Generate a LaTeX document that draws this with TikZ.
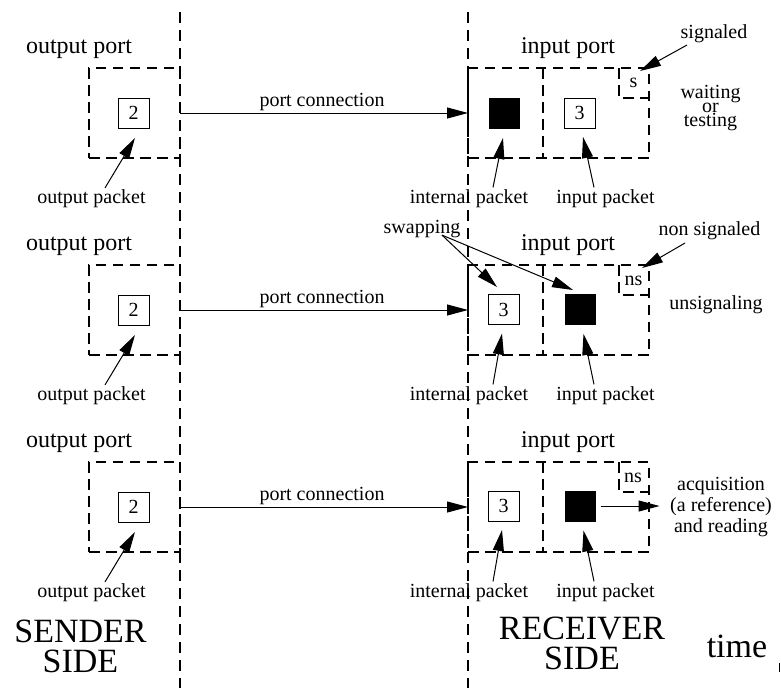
\documentclass[tikz,border=0pt]{standalone}
\usepackage{fontspec}
\setmainfont{Liberation Serif}
\usetikzlibrary{arrows.meta}
\begin{document}
\begin{tikzpicture}[x=1pt,y=-1pt,
  dline/.style={line width=1.1pt, dash pattern=on 10.5pt off 6.5pt},
  sepline/.style={line width=1.1pt, dash pattern=on 11pt off 7pt},
  dbox/.style={draw, dline, inner sep=0pt, outer sep=0pt},
  pkt/.style={draw, line width=0.9pt, minimum width=31pt, minimum height=30pt, inner sep=0pt, outer sep=0pt, font=\fontsize{20}{20}\selectfont},
  fpkt/.style={fill=black, minimum width=31pt, minimum height=31pt, inner sep=0pt, outer sep=0pt},
  lbl/.style={inner sep=0pt, anchor=base, font=\fontsize{20}{20}\selectfont},
  mlbl/.style={inner sep=0pt, align=center},
  ttl/.style={inner sep=0pt, anchor=base, font=\fontsize{24}{24}\selectfont},
  big/.style={inner sep=0pt, align=center, font=\fontsize{34}{30}\selectfont},
  arr/.style={line width=1pt, -{Triangle[length=21pt,width=11pt]}}
]
\useasboundingbox (0,0) rectangle (781,688);

% separators
\coordinate (slt) at (180,12); \coordinate (slb) at (180,688);
\coordinate (srt) at (468,12); \coordinate (srb) at (468,688);
\draw[sepline] (slt) -- (slb);
\draw[sepline] (srt) -- (srb);

\newcommand\rowcommon[1]{%
  \node[ttl] (opt#1) at (79,53) {output port};
  \node[dbox, minimum width=91pt, minimum height=90pt] (ob#1) at (134.5,113) {};
  \node[pkt] (op#1) at (133.5,113) {2};
  \node[lbl] (opl#1) at (91.5,203) {output packet};
  \draw[arr] ([xshift=13.5pt,yshift=1pt]opl#1.north) -- ([xshift=1.5pt,yshift=-10pt]op#1.south);
  \node[ttl] (ipt#1) at (568,53) {input port};
  \node[dbox, minimum width=181pt, minimum height=90pt] (ib#1) at (558.5,113) {};
  \draw[dline] ([xshift=75pt]ib#1.north west) -- ([xshift=75pt]ib#1.south west);
  \draw[dline] ([xshift=-30pt]ib#1.north east) |- ([yshift=-30pt]ib#1.north east);
  \node[lbl] (pcl#1) at (322,106) {port connection};
  \draw[arr] (ob#1.east) -- (ib#1.west);
  \node[lbl] (inl#1) at (469,203) {internal packet};
  \node[lbl] (ipl#1) at (605.5,203) {input packet};
  \draw[arr] ([xshift=24pt,yshift=1.5pt]inl#1.north) -- ([xshift=-1.5pt,yshift=-9pt]int#1.south);
  \draw[arr] ([xshift=-11.5pt,yshift=1.5pt]ipl#1.north) -- ([xshift=3.5pt,yshift=-9pt]inp#1.south);
}

% ---------- row 1 ----------
\begin{scope}
  \node[fpkt] (int1) at (504.5,113.5) {};
  \node[pkt] (inp1) at (579.5,113) {3};
  \rowcommon{1}
  \node[lbl] (s1) at (633.5,87) {s};
  \node[lbl] (sig1) at (714,38) {signaled};
  \draw[arr] ([xshift=-27pt,yshift=-2.5pt]sig1.south) -- ([xshift=-9pt,yshift=-3pt]ib1.north east);
  \node[mlbl, font=\fontsize{20}{14}\selectfont] (wt1) at (710.5,108.5) {waiting\\or\\testing};
\end{scope}

% ---------- row 2 ----------
\begin{scope}[shift={(0,197)}]
  \node[pkt] (int2) at (503.5,112.5) {3};
  \node[fpkt] (inp2) at (580,112.5) {};
  \rowcommon{2}
  \node[lbl] (ns2) at (633.5,88) {ns};
  \node[lbl] (nsig2) at (709.5,38) {non signaled};
  \draw[arr] ([xshift=-24.5pt,yshift=-3.5pt]nsig2.south) -- ([xshift=-7pt,yshift=-3pt]ib2.north east);
  \node[lbl] (uns2) at (716,112) {unsignaling};
  \node[lbl] (swp2) at (422,36) {swapping};
  \draw[arr] ([xshift=20pt,yshift=2.4pt]swp2.south) -- ([xshift=-6.5pt,yshift=7.5pt]int2.north);
  \draw[arr] ([xshift=20pt,yshift=2.4pt]swp2.south) -- ([xshift=-7pt,yshift=4pt]inp2.north);
\end{scope}

% ---------- row 3 ----------
\begin{scope}[shift={(0,394)}]
  \node[pkt] (int3) at (503.5,112) {3};
  \node[fpkt] (inp3) at (580,112) {};
  \rowcommon{3}
  \node[lbl] (ns3) at (633,88) {ns};
  \node[mlbl, font=\fontsize{20}{21}\selectfont] (acq) at (721,113.2) {acquisition\\(a reference)\\and reading};
  \coordinate (acqtip) at ([xshift=64pt]inp3.east);
  \draw[arr] ([xshift=5pt]inp3.east) -- (acqtip);
\end{scope}

% ---------- bottom labels ----------
\node[big] (snd) at (80.5,646.5) {SENDER\\SIDE};
\node[big] (rcv) at (582,643.5) {RECEIVER\\SIDE};
\node[big, anchor=base] (time) at (737,657) {time};
\coordinate (tk1) at (779,663); \coordinate (tk2) at (779,672);
\draw[line width=1pt] (tk1) -- (tk2);
\end{tikzpicture}
\end{document}
